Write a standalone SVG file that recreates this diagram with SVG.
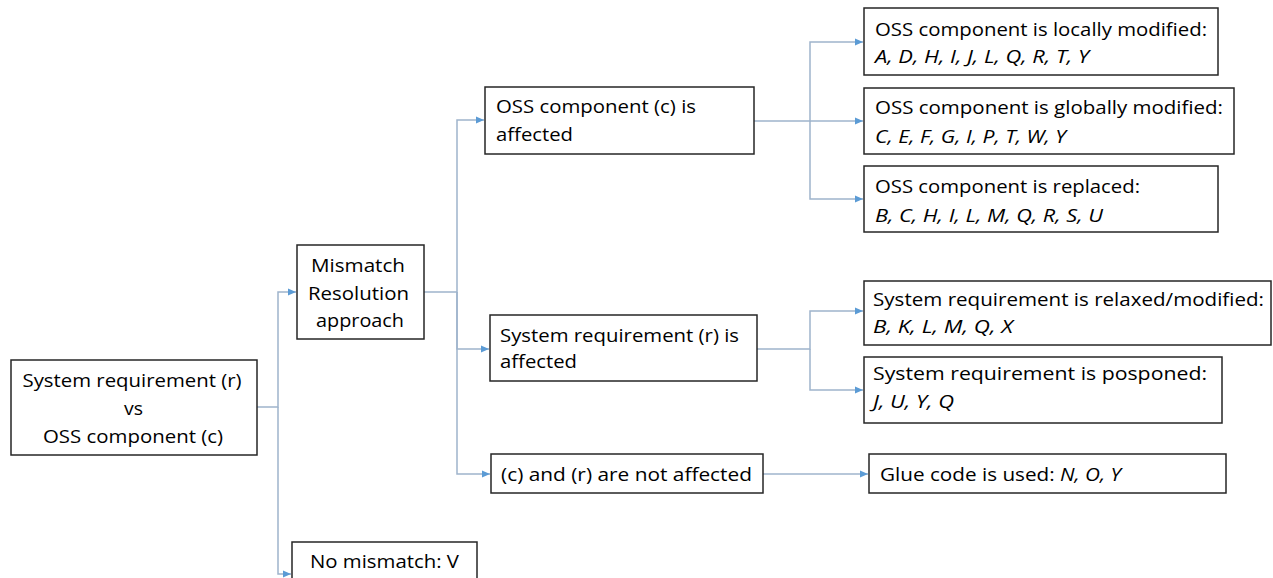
<svg xmlns="http://www.w3.org/2000/svg" width="1273" height="578" viewBox="0 0 1273 578">
<style>
.box{fill:#fff;stroke:#262626;stroke-width:1.5}
.t{font-family:"Open Sans","Liberation Sans",sans-serif;font-size:19px;fill:#000}
.i{font-style:italic}
.m{text-anchor:middle}
.c{fill:none;stroke:#9fb4cc;stroke-width:1.5}
</style>
<defs>
<marker id="ah" markerUnits="userSpaceOnUse" markerWidth="9" markerHeight="8" refX="8" refY="4" orient="auto">
<path d="M0,0.5 L8,4 L0,7.5 z" fill="#5b9bd5"/>
</marker>
</defs>
<rect width="1273" height="578" fill="#fff"/>
<g id="connectors">
<path class="c" d="M257,407 H278 V292 H296" marker-end="url(#ah)"/>
<path class="c" d="M278,407 V574 H291" marker-end="url(#ah)"/>
<path class="c" d="M424,292 H457 V120 H484" marker-end="url(#ah)"/>
<path class="c" d="M457,292 V349 H489" marker-end="url(#ah)"/>
<path class="c" d="M457,292 V474 H490" marker-end="url(#ah)"/>
<path class="c" d="M754,121 H810 V42 H863" marker-end="url(#ah)"/>
<path class="c" d="M810,121 H863" marker-end="url(#ah)"/>
<path class="c" d="M810,121 V199 H863" marker-end="url(#ah)"/>
<path class="c" d="M757,349 H810 V311 H863" marker-end="url(#ah)"/>
<path class="c" d="M810,349 V390 H863" marker-end="url(#ah)"/>
<path class="c" d="M763,474 H868" marker-end="url(#ah)"/>
</g>
<g id="root">
<rect class="box" x="11" y="360" width="246" height="95"/>
<text class="t m" x="132" y="387" textLength="219" lengthAdjust="spacingAndGlyphs">System requirement (r)</text>
<text class="t m" x="133.5" y="415" textLength="19" lengthAdjust="spacingAndGlyphs">vs</text>
<text class="t m" x="133" y="443" textLength="180" lengthAdjust="spacingAndGlyphs">OSS component (c)</text>
</g>
<g id="mismatch">
<rect class="box" x="297" y="245" width="127" height="94"/>
<text class="t m" x="358" y="272" textLength="94" lengthAdjust="spacingAndGlyphs">Mismatch</text>
<text class="t m" x="358.5" y="300" textLength="101" lengthAdjust="spacingAndGlyphs">Resolution</text>
<text class="t m" x="360" y="327" textLength="88" lengthAdjust="spacingAndGlyphs">approach</text>
</g>
<g id="nomismatch">
<rect class="box" x="292" y="542" width="185" height="50"/>
<text class="t" x="310" y="568" textLength="149" lengthAdjust="spacingAndGlyphs">No mismatch: V</text>
</g>
<g id="ossAffected">
<rect class="box" x="485" y="87" width="269" height="67"/>
<text class="t" x="496" y="113" textLength="200" lengthAdjust="spacingAndGlyphs">OSS component (c) is</text>
<text class="t" x="496" y="141" textLength="77" lengthAdjust="spacingAndGlyphs">affected</text>
</g>
<g id="sysAffected">
<rect class="box" x="490" y="315" width="267" height="66"/>
<text class="t" x="500" y="342" textLength="239" lengthAdjust="spacingAndGlyphs">System requirement (r) is</text>
<text class="t" x="500" y="368" textLength="77" lengthAdjust="spacingAndGlyphs">affected</text>
</g>
<g id="notAffected">
<rect class="box" x="491" y="454" width="272" height="39"/>
<text class="t" x="501" y="481" textLength="251" lengthAdjust="spacingAndGlyphs">(c) and (r) are not affected</text>
</g>
<g id="local">
<rect class="box" x="864" y="8" width="354" height="67"/>
<text class="t" x="875" y="36" textLength="332" lengthAdjust="spacingAndGlyphs">OSS component is locally modified:</text>
<text class="t i" x="875" y="63" textLength="214" lengthAdjust="spacingAndGlyphs">A, D, H, I, J, L, Q, R, T, Y</text>
</g>
<g id="global">
<rect class="box" x="864" y="88" width="370" height="66"/>
<text class="t" x="875" y="114" textLength="348" lengthAdjust="spacingAndGlyphs">OSS component is globally modified:</text>
<text class="t i" x="875" y="143" textLength="191" lengthAdjust="spacingAndGlyphs">C, E, F, G, I, P, T, W, Y</text>
</g>
<g id="replaced">
<rect class="box" x="864" y="166" width="354" height="66"/>
<text class="t" x="875" y="193" textLength="265" lengthAdjust="spacingAndGlyphs">OSS component is replaced:</text>
<text class="t i" x="875" y="222" textLength="228" lengthAdjust="spacingAndGlyphs">B, C, H, I, L, M, Q, R, S, U</text>
</g>
<g id="relaxed">
<rect class="box" x="864" y="281" width="407" height="64"/>
<text class="t" x="873" y="306" textLength="391" lengthAdjust="spacingAndGlyphs">System requirement is relaxed/modified:</text>
<text class="t i" x="873" y="333" textLength="140" lengthAdjust="spacingAndGlyphs">B, K, L, M, Q, X</text>
</g>
<g id="posponed">
<rect class="box" x="864" y="357" width="358" height="66"/>
<text class="t" x="873" y="380" textLength="334" lengthAdjust="spacingAndGlyphs">System requirement is posponed:</text>
<text class="t i" x="873" y="408" textLength="81" lengthAdjust="spacingAndGlyphs">J, U, Y, Q</text>
</g>
<g id="glue">
<rect class="box" x="869" y="454" width="357" height="39"/>
<text class="t" x="880" y="481" textLength="241" lengthAdjust="spacingAndGlyphs">Glue code is used: <tspan class="i">N, O, Y</tspan></text>
</g>
</svg>
